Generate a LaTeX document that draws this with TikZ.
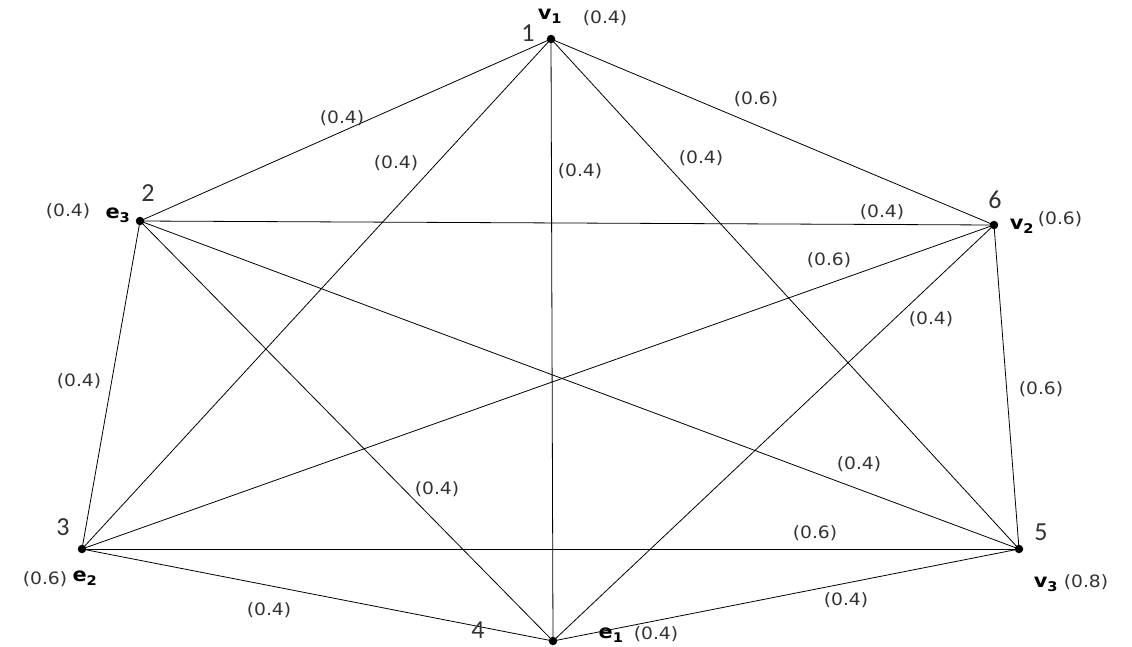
\documentclass[tikz,border=0pt]{standalone}
\usepackage{fontspec}
\newfontfamily\labfont[FakeStretch=1.1]{DejaVu Sans}
\newfontfamily\numfont{Carlito}
\begin{document}
\begin{tikzpicture}[x=1pt,y=-1pt,
  vert/.style={circle,fill=black,inner sep=0pt,minimum size=8.5pt},
  elab/.style={font=\labfont\fontsize{17}{19}\selectfont,text=black!80,inner sep=0pt},
  nlab/.style={font=\numfont\fontsize{26}{28}\selectfont,text=black!80,inner sep=0pt},
  vlab/.style={font=\labfont\bfseries\fontsize{19}{20}\selectfont,inner sep=0pt},
  edge/.style={draw=black,line width=0.8pt}]
\useasboundingbox[fill=white] (0,0) rectangle (1132,646);
% vertices
\node[vert] (n1) at (551,39) {};
\node[vert] (n2) at (140,221) {};
\node[vert] (n6) at (994,225) {};
\node[vert] (n3) at (82,549) {};
\node[vert] (n5) at (1019,549) {};
\node[vert] (n4) at (553,641) {};
% edges
\foreach \a/\b in {n1/n2,n1/n3,n1/n4,n1/n5,n1/n6,n2/n6,n2/n3,n2/n4,n2/n5,n6/n3,n6/n4,n6/n5,n3/n5,n3/n4,n4/n5}
  \draw[edge] (\a.center) -- (\b.center);
% vertex labels
\node[nlab] (t1) at (528,33) {1};
\node[vlab] (v1) at (550,16) {v\textsubscript{1}};
\node[elab] (w1) at (605,18) {(0.4)};
\node[nlab] (t2) at (148,193) {2};
\node[elab] (w2) at (68,211) {(0.4)};
\node[vlab] (e3) at (118,215) {e\textsubscript{3}};
\node[nlab] (t6) at (995,200) {6};
\node[vlab] (v2) at (1022,226) {v\textsubscript{2}};
\node[elab] (w6) at (1060,219) {(0.6)};
\node[nlab] (t3) at (63,527) {3};
\node[elab] (w3) at (45,579) {(0.6)};
\node[vlab] (e2) at (85,578) {e\textsubscript{2}};
\node[nlab] (t5) at (1041,532) {5};
\node[vlab] (v3) at (1046,584) {v\textsubscript{3}};
\node[elab] (w5) at (1086,582) {(0.8)};
\node[nlab] (t4) at (478,630) {4};
\node[vlab] (e1) at (611,635) {e\textsubscript{1}};
\node[elab] (w4) at (656,634) {(0.4)};
% edge labels
\node[elab] (l12) at (342,118) {(0.4)};
\node[elab] (l13) at (396,163) {(0.4)};
\node[elab] (l14) at (580,171) {(0.4)};
\node[elab] (l15) at (701,158) {(0.4)};
\node[elab] (l16) at (756,99) {(0.6)};
\node[elab] (l26) at (882,212) {(0.4)};
\node[elab] (l36) at (829,260) {(0.6)};
\node[elab] (l46) at (931,319) {(0.4)};
\node[elab] (l56) at (1041,389) {(0.6)};
\node[elab] (l25) at (859,464) {(0.4)};
\node[elab] (l35) at (815,533) {(0.6)};
\node[elab] (l45) at (846,600) {(0.4)};
\node[elab] (l24) at (437,489) {(0.4)};
\node[elab] (l23) at (79,381) {(0.4)};
\node[elab] (l34) at (269,610) {(0.4)};
\end{tikzpicture}
\end{document}
